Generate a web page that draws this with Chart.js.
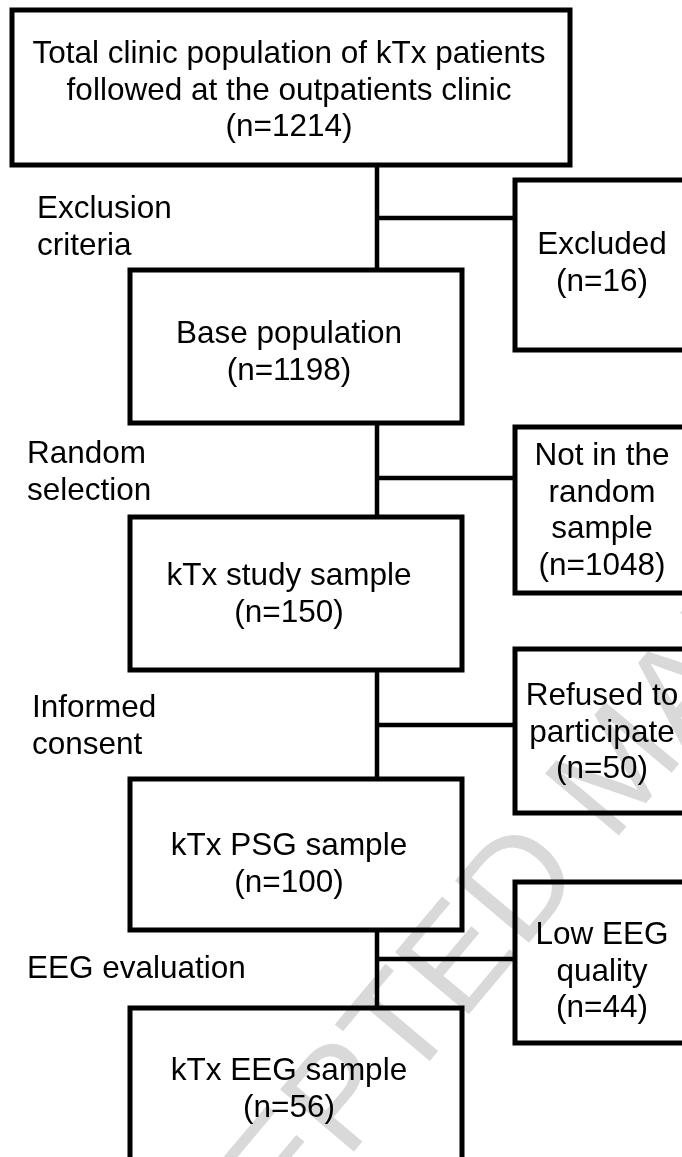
<!DOCTYPE html>
<html>
<head>
<meta charset="utf-8">
<script src="https://cdn.jsdelivr.net/npm/chart.js@4.4.1/dist/chart.umd.min.js"></script>
<style>
    html, body { margin: 0; padding: 0; background: #ffffff; }
    #flowChart { display: block; }
</style>
</head>
<body>
<canvas id="flowChart" width="682" height="1157"></canvas>
<script>
// Flow of the kTx sample, step by step
const stageNames = [
    'Total clinic population of kTx patients\nfollowed at the outpatients clinic',
    'Base population',
    'kTx study sample',
    'kTx PSG sample',
    'kTx EEG sample'
];
const stageCounts = [1214, 1198, 150, 100, 56];
const stepNames = ['Exclusion\ncriteria', 'Random\nselection', 'Informed\nconsent', 'EEG evaluation'];
const dropNames = ['Excluded', 'Not in the\nrandom\nsample', 'Refused to\nparticipate', 'Low EEG\nquality'];
const dropCounts = [16, 1048, 50, 44];

// Layout of the page (in pixel units of the hidden axes)
const trunkX = 377;
const stageBoxes = [
    { x0: 12, x1: 570, y0: 10, y1: 165, textY: 63 },
    { x0: 130, x1: 462, y0: 270, y1: 423, textY: 343 },
    { x0: 130, x1: 462, y0: 517, y1: 670, textY: 585 },
    { x0: 130, x1: 462, y0: 779, y1: 930, textY: 855 },
    { x0: 130, x1: 462, y0: 1008, y1: 1165, textY: 1080 }
];
const dropBoxes = [
    { x0: 515, x1: 692, y0: 180, y1: 350, textY: 254, linkY: 218 },
    { x0: 515, x1: 692, y0: 427, y1: 593, textY: 465, linkY: 478 },
    { x0: 515, x1: 692, y0: 649, y1: 813, textY: 705, linkY: 725 },
    { x0: 515, x1: 692, y0: 882, y1: 1043, textY: 944, linkY: 959 }
];
const stepPos = [
    { x: 37, y: 218 },
    { x: 27, y: 463 },
    { x: 32, y: 717 },
    { x: 27, y: 978 }
];
const stageTextX = 289;
const dropTextX = 602;
const lineGap = 36.5;
const fontSpec = '31.5px "Liberation Sans", Arial, sans-serif';

function rectPoints(b) {
    return [
        { x: b.x0, y: b.y0 }, { x: b.x1, y: b.y0 }, { x: b.x1, y: b.y1 },
        { x: b.x0, y: b.y1 }, { x: b.x0, y: b.y0 }
    ];
}

function lineSet(points, width, cap) {
    return {
        data: points,
        showLine: true,
        pointRadius: 0,
        borderColor: '#000000',
        borderWidth: width,
        borderCapStyle: cap,
        borderJoinStyle: 'miter',
        fill: false,
        tension: 0
    };
}

const datasets = [];

// Boxes
stageBoxes.forEach(b => datasets.push(lineSet(rectPoints(b), 5, 'square')));
dropBoxes.forEach(b => datasets.push(lineSet(rectPoints(b), 5, 'square')));

// Connectors: trunk between stages and branch to the dropped box
dropBoxes.forEach((d, i) => {
    datasets.push(lineSet([{ x: trunkX, y: stageBoxes[i].y1 }, { x: trunkX, y: stageBoxes[i + 1].y0 }], 4.5, 'butt'));
    datasets.push(lineSet([{ x: trunkX, y: d.linkY }, { x: d.x0, y: d.linkY }], 4.5, 'butt'));
});

// Faint diagonal watermark behind the drawing
const watermarkPlugin = {
    id: 'watermark',
    beforeDatasetsDraw(chart) {
        const ctx = chart.ctx;
        const sx = chart.scales.x;
        const sy = chart.scales.y;
        const size = 140;
        ctx.save();
        ctx.font = size + 'px "Liberation Sans", Arial, sans-serif';
        ctx.fillStyle = '#d9d9d9';
        ctx.translate(sx.getPixelForValue(338), sy.getPixelForValue(1092));
        ctx.rotate(-50 * Math.PI / 180);
        const offset = ctx.measureText('ACCE').width + ctx.measureText('P').width / 2;
        ctx.textAlign = 'left';
        ctx.textBaseline = 'alphabetic';
        ctx.fillText('ACCEPTED MANUSCRIPT', -offset, size * 0.36);
        ctx.restore();
    }
};

// Box texts and step labels
const textPlugin = {
    id: 'flowText',
    afterDatasetsDraw(chart) {
        const ctx = chart.ctx;
        const sx = chart.scales.x;
        const sy = chart.scales.y;

        function drawLines(lines, x, y, align) {
            ctx.textAlign = align;
            lines.forEach((t, k) => {
                ctx.fillText(t, sx.getPixelForValue(x), sy.getPixelForValue(y + k * lineGap));
            });
        }

        ctx.save();
        ctx.font = fontSpec;
        ctx.fillStyle = '#000000';
        ctx.textBaseline = 'alphabetic';

        stageNames.forEach((name, i) => {
            const lines = name.split('\n').concat('(n=' + stageCounts[i] + ')');
            drawLines(lines, stageTextX, stageBoxes[i].textY, 'center');
        });
        dropNames.forEach((name, i) => {
            const lines = name.split('\n').concat('(n=' + dropCounts[i] + ')');
            drawLines(lines, dropTextX, dropBoxes[i].textY, 'center');
        });
        stepNames.forEach((name, i) => {
            drawLines(name.split('\n'), stepPos[i].x, stepPos[i].y, 'left');
        });
        ctx.restore();
    }
};

new Chart(document.getElementById('flowChart'), {
    type: 'scatter',
    data: { datasets: datasets },
    options: {
        responsive: false,
        animation: false,
        layout: { padding: 0 },
        plugins: {
            legend: { display: false },
            tooltip: { enabled: false }
        },
        scales: {
            x: { type: 'linear', min: 0, max: 682, display: false },
            y: { type: 'linear', min: 0, max: 1157, reverse: true, display: false }
        }
    },
    plugins: [watermarkPlugin, textPlugin]
});
</script>
</body>
</html>
